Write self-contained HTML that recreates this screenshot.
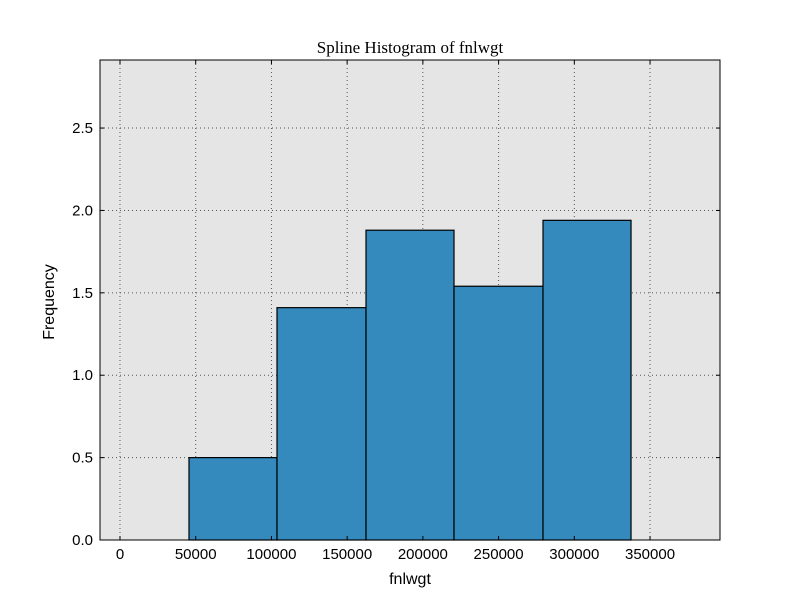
<!DOCTYPE html>
<html><head><meta charset="utf-8"><style>
body{margin:0;background:#fff;}
svg{display:block;font-family:"Liberation Sans",sans-serif;}
</style></head><body>
<svg id="chart" width="800" height="600"></svg>
<script>
const binEdges=[45566,103680,162450,220560,279330,337450];
const frequencies=[0.5,1.41,1.88,1.54,1.94];
const xTicks=[0,50000,100000,150000,200000,250000,300000,350000];
const yTicks=[0.0,0.5,1.0,1.5,2.0,2.5];
const L=100,R=720,T=60,B=540;
const xMin=-13200,xMax=396200,yMin=0,yMax=2.913;
const xs=v=>L+(v-xMin)/(xMax-xMin)*(R-L);
const ys=v=>B-(v-yMin)/(yMax-yMin)*(B-T);
const svg=document.getElementById('chart');
const NS='http://www.w3.org/2000/svg';
function mk(tag,attrs,parent){const e=document.createElementNS(NS,tag);for(const k in attrs)e.setAttribute(k,attrs[k]);(parent||svg).appendChild(e);return e;}
const bg=mk('rect',{x:L,y:T,width:R-L,height:B-T,fill:'#e5e5e5'});


xTicks.forEach(t=>{const g=mk('line',{x1:xs(t),x2:xs(t),y1:T,y2:B,stroke:'#555','stroke-width':1,'stroke-dasharray':'1,3'});

});
yTicks.forEach(t=>{const g=mk('line',{x1:L,x2:R,y1:ys(t),y2:ys(t),stroke:'#555','stroke-width':1,'stroke-dasharray':'1,3'});

});
frequencies.forEach((f,i)=>{const b=mk('rect',{x:xs(binEdges[i]),y:ys(f),width:xs(binEdges[i+1])-xs(binEdges[i]),height:ys(0)-ys(f),fill:'#348abd',stroke:'#000','stroke-width':1.2});

});
const frame=mk('rect',{x:L,y:T,width:R-L,height:B-T,fill:'none',stroke:'#000','stroke-width':1});


xTicks.forEach(t=>{const x=xs(t);
mk('line',{x1:x,x2:x,y1:B,y2:B-4,stroke:'#000'});mk('line',{x1:x,x2:x,y1:T,y2:T+4,stroke:'#000'});
const tx=mk('text',{x:x,y:B+19,'text-anchor':'middle','font-size':15,fill:'#000'});tx.textContent=t;

});
yTicks.forEach(t=>{const y=ys(t);
mk('line',{x1:L,x2:L+4,y1:y,y2:y,stroke:'#000'});mk('line',{x1:R,x2:R-4,y1:y,y2:y,stroke:'#000'});
const tx=mk('text',{x:L-7,y:y+5,'text-anchor':'end','font-size':15,fill:'#000'});tx.textContent=t.toFixed(1);

});
const title=mk('text',{x:410,y:53,'text-anchor':'middle','font-size':17,'font-family':'Liberation Serif,serif',fill:'#000'});title.textContent='Spline Histogram of fnlwgt';


const xl=mk('text',{x:410,y:584,'text-anchor':'middle','font-size':16,fill:'#000'});xl.textContent='fnlwgt';


const yl=mk('text',{x:54,y:302,'text-anchor':'middle','font-size':16,fill:'#000',transform:'rotate(-90 54 302)'});yl.textContent='Frequency';


</script>
</body></html>
